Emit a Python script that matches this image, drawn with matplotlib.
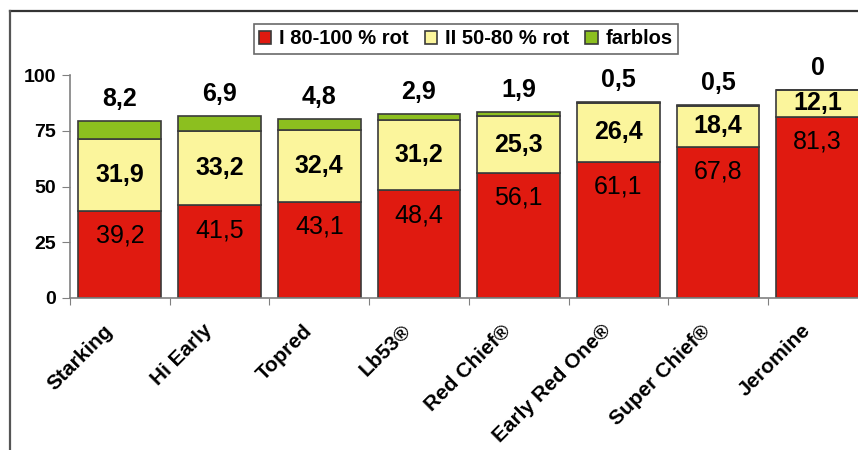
import matplotlib.pyplot as plt
from matplotlib.lines import Line2D
import numpy as np

plt.rcParams['font.family'] = ['Liberation Sans', 'DejaVu Sans']

sorten = ["Starking", "Hi Early", "Topred", "Lb53®", "Red Chief®",
          "Early Red One®", "Super Chief®", "Jeromine"]
rot_80_100 = [39.2, 41.5, 43.1, 48.4, 56.1, 61.1, 67.8, 81.3]
rot_50_80 = [31.9, 33.2, 32.4, 31.2, 25.3, 26.4, 18.4, 12.1]
farblos = [8.2, 6.9, 4.8, 2.9, 1.9, 0.5, 0.5, 0]
labels = ["I 80-100 % rot", "II 50-80 % rot", "farblos"]

red = "#e01a10"
yellow = "#fbf59c"
green = "#8cbf1f"
edge = "#3a3a3a"

fig = plt.figure(figsize=(8.58, 4.5), dpi=100)
ax = fig.add_axes([70 / 858, 152 / 450, 797.6 / 858, 223 / 450])

x = np.arange(len(sorten))
w = 0.83
r = np.array(rot_80_100)
y = np.array(rot_50_80)
g = np.array(farblos)

b1 = ax.bar(x, r, w, color=red, edgecolor=edge, linewidth=1.2, label=labels[0])
b2 = ax.bar(x, y, w, bottom=r, color=yellow, edgecolor=edge, linewidth=1.2, label=labels[1])
b3 = ax.bar(x, g, w, bottom=r + y, color=green, edgecolor=edge, linewidth=1.2, label=labels[2])

for i in range(len(sorten)):
    ax.annotate(f"{rot_80_100[i]:.1f}".replace(".", ","), (x[i], r[i]), xytext=(0, -25),
                textcoords="offset pixels", ha="center", va="center", fontsize=18)
    ax.text(x[i], r[i] + y[i] / 2, f"{rot_50_80[i]:.1f}".replace(".", ","),
            ha="center", va="center", fontsize=18, fontweight="bold")
    top = r[i] + y[i] + g[i]
    lab = "0" if farblos[i] == 0 else f"{farblos[i]:.1f}".replace(".", ",")
    ax.annotate(lab, (x[i], top), xytext=(0, 22), textcoords="offset pixels",
                ha="center", va="center", fontsize=18, fontweight="bold",
                annotation_clip=False)
    # category labels, rotated under the bars
    ax.annotate(sorten[i], (x[i], 0), xycoords=("data", "axes fraction"),
                xytext=(-17, -23), textcoords="offset pixels", rotation=45,
                ha="right", va="top", rotation_mode="anchor",
                fontsize=15, fontweight="bold", annotation_clip=False)

ax.set_xlim(-0.5, len(sorten) - 0.5)
ax.set_ylim(0, 100)
ax.set_yticks([0, 25, 50, 75, 100])
ax.set_yticklabels(["0", "25", "50", "75", "100"], fontsize=14, fontweight="bold")
ax.set_xticks(x - 0.5)
ax.set_xticklabels([])
ax.tick_params(axis="x", length=5, color="#808080")
ax.tick_params(axis="y", length=6, color="#808080", pad=4)
for s in ["top", "right"]:
    ax.spines[s].set_visible(False)
for s in ["left", "bottom"]:
    ax.spines[s].set_color("#808080")
    ax.spines[s].set_linewidth(1.2)

leg = fig.legend(handles=[b1, b2, b3], loc="center", bbox_to_anchor=(466 / 858, 1 - 39 / 450),
                 ncol=3, prop={"weight": "bold", "size": 14.5},
                 handlelength=0.6, handleheight=0.6, handletextpad=0.4, columnspacing=0.8,
                 frameon=True, fancybox=False, edgecolor="#444444", borderpad=0.25)
leg.get_frame().set_linewidth(1.2)

fig.add_artist(Line2D([10 / 858, 1], [1 - 11 / 450, 1 - 11 / 450], color="#333333", linewidth=1.6))
fig.add_artist(Line2D([10 / 858, 10 / 858], [0, 1 - 11 / 450], color="#555555", linewidth=1.6))

fig.savefig("out.png", dpi=100)
